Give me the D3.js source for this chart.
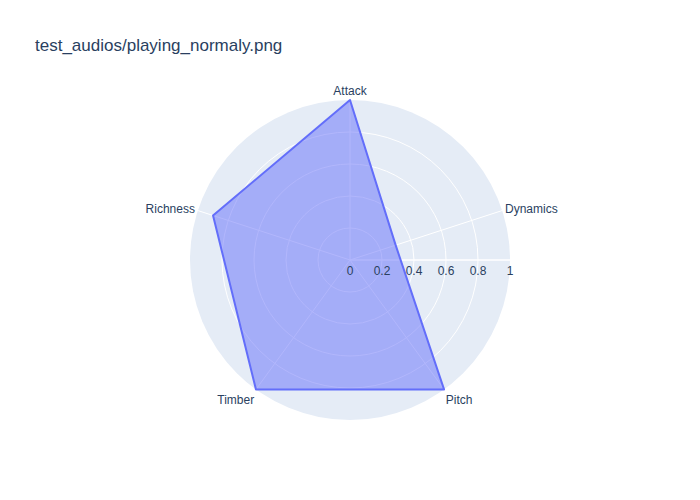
<!DOCTYPE html>
<html><head><meta charset="utf-8">
<script src="https://cdn.jsdelivr.net/npm/d3@7"></script>
<style>body{margin:0;background:#fff}svg{font-family:"Liberation Sans",Arial,sans-serif}</style>
</head><body>
<script>
const categories = ["Attack", "Dynamics", "Pitch", "Timber", "Richness"];
const values = [1.0, 0.3, 1.0, 1.0, 0.9];
const radialTicks = [0, 0.2, 0.4, 0.6, 0.8, 1];
const radialTickLabels = ["0", "0.2", "0.4", "0.6", "0.8", "1"];
const title = "test_audios/playing_normaly.png";

const W = 700, H = 500, cx = 350, cy = 260, R = 160;
const svg = d3.select("body").append("svg").attr("width", W).attr("height", H);
const rScale = d3.scaleLinear().domain([0, 1]).range([0, R]);
// clockwise from top
const aScale = d3.scaleLinear().domain([0, categories.length]).range([90, 90 - 360]);
const angleDeg = c => aScale(categories.indexOf(c));
const pt = (c, v) => {
  const a = angleDeg(c) * Math.PI / 180;
  return [cx + rScale(v) * Math.cos(a), cy - rScale(v) * Math.sin(a)];
};

const g = svg.append("g");
g.append("circle").attr("cx", cx).attr("cy", cy).attr("r", R).attr("fill", "#e5ecf6");
radialTicks.filter(t => t > 0 && t < 1).forEach(t => {
  g.append("circle").attr("cx", cx).attr("cy", cy).attr("r", rScale(t))
    .attr("fill", "none").attr("stroke", "#fff").attr("stroke-width", 1);
});
categories.forEach(c => {
  const [x, y] = pt(c, 1);
  g.append("line").attr("x1", cx).attr("y1", cy).attr("x2", x).attr("y2", y)
    .attr("stroke", "#fff").attr("stroke-width", 1);
});
// radial axis line
g.append("line").attr("x1", cx).attr("y1", cy).attr("x2", cx + rScale(1)).attr("y2", cy)
  .attr("stroke", "#fff").attr("stroke-width", 1.5);

// data
const pts = categories.map((c, i) => pt(c, values[i]));
g.append("path").attr("d", d3.line().curve(d3.curveLinearClosed)(pts))
  .attr("fill", "#636efa").attr("fill-opacity", 0.5)
  .attr("stroke", "#636efa").attr("stroke-width", 2).attr("stroke-linejoin", "round");

// radial tick labels
radialTicks.forEach((t, i) => {
  g.append("text").attr("x", cx + rScale(t)).attr("y", cy + 15)
    .attr("text-anchor", "middle").attr("font-size", 12).attr("fill", "#2a3f5f")
    .text(radialTickLabels[i]);
});

// angular labels
categories.forEach(c => {
  const a = angleDeg(c) * Math.PI / 180;
  const cs = Math.cos(a), sn = Math.sin(a);
  const x = cx + (R + 3) * cs, y = cy - (R + 5) * sn;
  const anchor = cs > 0.1 ? "start" : (cs < -0.1 ? "end" : "middle");
  const yc = y + 1.8 - 5.8 * sn;
  g.append("text").attr("x", x).attr("y", yc + 4.2)
    .attr("text-anchor", anchor).attr("font-size", 12).attr("fill", "#2a3f5f").text(c);
});

svg.append("text").attr("x", 35).attr("y", 51).attr("font-size", 17).attr("fill", "#2a3f5f").text(title);
</script>
</body></html>
